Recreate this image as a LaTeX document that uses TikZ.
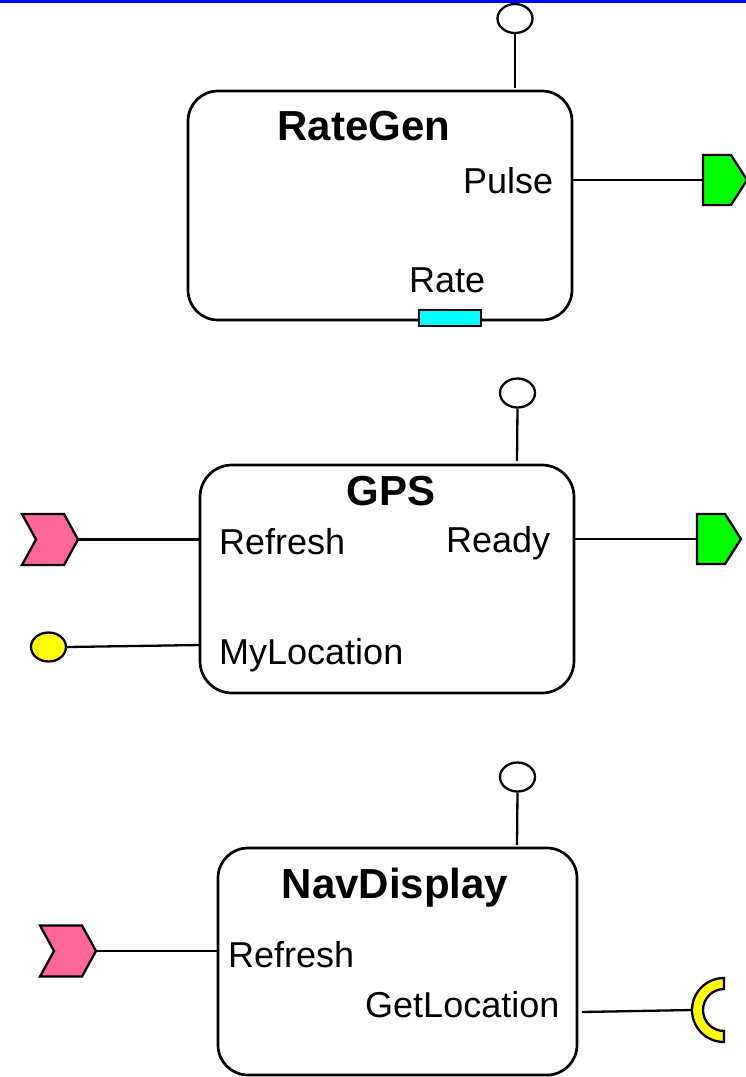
\documentclass[tikz,border=0pt]{standalone}
\usepackage{fontspec}
\setmainfont{Liberation Sans}
\usetikzlibrary{shapes.geometric}

\definecolor{portgreen}{RGB}{0,255,0}
\definecolor{portpink}{RGB}{255,102,153}
\definecolor{portyellow}{RGB}{255,255,0}
\definecolor{portcyan}{RGB}{0,255,255}

\tikzset{
  block/.style={draw, line width=2.7pt, rounded corners=30pt, inner sep=0pt},
  blocktitle/.style={inner sep=0pt, anchor=base, font=\fontsize{42}{46}\selectfont\bfseries},
  lbl/.style={inner sep=0pt, anchor=base west, font=\fontsize{36}{40}\selectfont},
  wire/.style={line width=2.3pt},
  portline/.style={line width=2.3pt, line join=miter},
  lifecycle/.style={draw, ellipse, line width=2.3pt, fill=white, inner sep=0pt,
    minimum width=35pt, minimum height=29pt},
  dataport/.style={draw, ellipse, line width=2.3pt, fill=portyellow, inner sep=0pt,
    minimum width=35pt, minimum height=29pt},
  attrport/.style={draw, rectangle, line width=2.3pt, fill=portcyan, inner sep=0pt,
    minimum width=62pt, minimum height=16pt},
  % outgoing event: green pentagon, entry point at its left edge
  outport/.pic={
    \draw[portline, fill=portgreen] (0,-25) -- (28,-25) -- (44,0) -- (28,25) -- (0,25) -- cycle;
    \coordinate (-w) at (0,0);
  },
  % incoming event: pink chevron, exit point at its tip
  inport/.pic={
    \draw[portline, fill=portpink] (0,-25.5) -- (42,-25.5) -- (56,0) -- (42,25.5) -- (0,25.5) -- (14,0) -- cycle;
    \coordinate (-e) at (56,0);
  },
  % required interface: yellow half ring opening to the right
  socket/.pic={
    \draw[portline, fill=portyellow] (0,-32) arc[start angle=270, end angle=90, radius=32]
      -- (0,21) arc[start angle=90, end angle=270, radius=21] -- cycle;
    \coordinate (-w) at (-32,0);
  }
}

\begin{document}
\begin{tikzpicture}[x=1pt, y=-1pt]
\useasboundingbox (0,0) rectangle (746,1077);

% frame edge along the top
\draw[blue, line width=3.5pt] (0,1.5) -- (746,1.5);

% ---------------- RateGen ----------------
\node[block, minimum width=384pt, minimum height=229pt] (rategen) at (380,205.5) {};
\node[blocktitle] (rategenT) at (364,140) {RateGen};
\node[lbl] (pulseL) at (463,193) {Pulse};
\node[lbl] (rateL) at (409,292) {Rate};
\node[lifecycle] (rgLife) at (515,18.5) {};
\coordinate (rgTop) at (515,88);
\draw[wire] (rgLife.south) -- (rgTop);
\node[attrport] (rateP) at (450,318) {};
\coordinate (rgPulse) at (573,180);
\pic (pulseOut) at (703,180) {outport};
\draw[wire] (rgPulse) -- (pulseOut-w);

% ---------------- GPS ----------------
\node[block, minimum width=374pt, minimum height=228pt, rounded corners=32pt] (gps) at (387,579) {};
\node[blocktitle] (gpsT) at (391,505) {GPS};
\node[lbl] (gpsRefL) at (219,554) {Refresh};
\node[lbl] (readyL) at (446,552) {Ready};
\node[lbl] (myLocL) at (219,664) {MyLocation};
\node[lifecycle] (gpsLife) at (517.5,393) {};
\coordinate (gpsTop) at (517,461);
\draw[wire] (gpsLife.south) -- (gpsTop);
\pic (gpsRefIn) at (22,539.5) {inport};
\coordinate (gpsRef) at (200,539.5);
\draw[wire] (gpsRefIn-e) -- (gpsRef);
\coordinate (gpsReady) at (574,539);
\pic (readyOut) at (697,539) {outport};
\draw[wire] (gpsReady) -- (readyOut-w);
\node[dataport] (myLocP) at (48.5,647) {};
\coordinate (gpsMyLoc) at (200,645);
\draw[wire] (myLocP.east) -- (gpsMyLoc);

% ---------------- NavDisplay ----------------
\node[block, minimum width=359pt, minimum height=227pt] (nav) at (397.5,961.5) {};
\node[blocktitle] (navT) at (395,898) {NavDisplay};
\node[lbl] (navRefL) at (228,967) {Refresh};
\node[lbl] (getLocL) at (365,1017) {GetLocation};
\node[lifecycle] (navLife) at (517.5,777) {};
\coordinate (navTop) at (517,845);
\draw[wire] (navLife.south) -- (navTop);
\pic (navRefIn) at (40,951) {inport};
\coordinate (navRef) at (218,951);
\draw[wire] (navRefIn-e) -- (navRef);
\coordinate (navGetLoc) at (582,1012);
\pic (getLocSock) at (724,1010) {socket};
\draw[wire] (navGetLoc) -- (getLocSock-w);

\end{tikzpicture}
\end{document}
